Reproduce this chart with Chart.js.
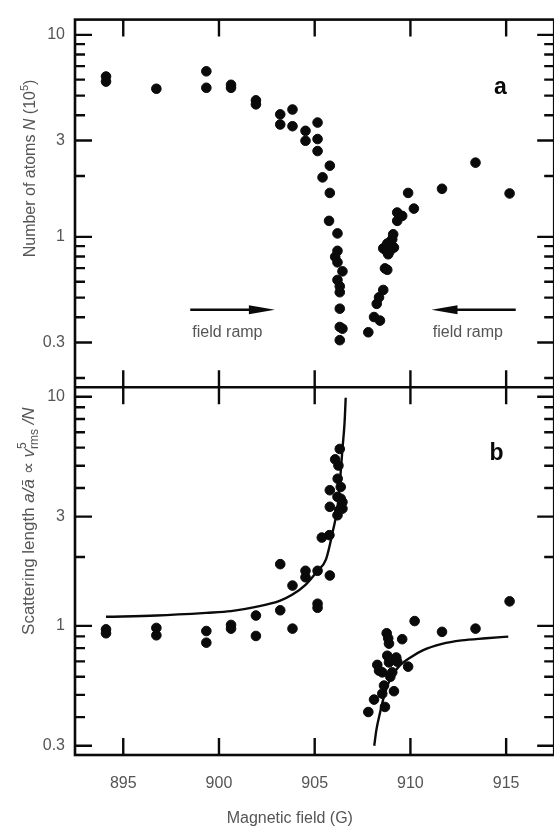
<!DOCTYPE html>
<html>
<head>
<meta charset="utf-8">
<script src="https://cdn.jsdelivr.net/npm/chart.js@4.4.1/dist/chart.umd.min.js"></script>
<style>
  html, body { margin: 0; padding: 0; background: #fff; overflow: hidden; }
  #wrap { position: relative; width: 560px; height: 826px; }
</style>
</head>
<body>
<div id="wrap"><canvas id="chart" width="560" height="826"></canvas></div>
<script>
// ── Data ──────────────────────────────────────────────────────
// panel a: number of atoms N (10^5) against magnetic field (G)
const fieldA = [894.10, 894.10, 896.73, 899.34, 899.34, 900.63, 900.63, 901.93, 901.93, 903.20,
  903.20, 903.84, 903.84, 904.52, 904.52, 905.15, 905.15, 905.15, 905.79, 905.41,
  905.79, 905.75, 906.19, 906.19, 906.07, 906.19, 906.45, 906.19, 906.31, 906.31,
  906.31, 906.31, 906.45, 906.31, 907.80, 908.10, 908.41, 908.24, 908.36, 908.58,
  908.67, 908.79, 908.58, 908.79, 908.96, 909.14, 908.84, 909.05, 908.74, 908.91,
  909.10, 909.31, 909.31, 909.57, 909.88, 910.18, 911.65, 913.40, 915.18];
const atomsA = [6.22, 5.87, 5.41, 6.60, 5.47, 5.66, 5.47, 4.74, 4.53, 4.04,
  3.60, 4.27, 3.53, 3.35, 2.99, 3.68, 3.05, 2.66, 2.25, 1.97,
  1.65, 1.20, 1.04, 0.853, 0.796, 0.748, 0.675, 0.612, 0.569, 0.532,
  0.441, 0.358, 0.351, 0.308, 0.337, 0.401, 0.385, 0.466, 0.502, 0.546,
  0.698, 0.687, 0.877, 0.926, 0.948, 0.885, 0.820, 0.973, 0.853, 0.847,
  1.03, 1.20, 1.32, 1.27, 1.65, 1.38, 1.73, 2.33, 1.64];

// panel b: scattering length a/ā
const fieldB = [894.10, 894.10, 896.73, 896.73, 899.34, 899.34, 900.63, 900.63, 901.93, 901.93,
  903.20, 903.20, 903.84, 903.84, 904.52, 904.52, 905.15, 905.15, 905.15, 905.79,
  905.37, 905.77, 905.79, 905.79, 906.07, 906.31, 906.24, 906.20, 906.36, 906.36,
  906.45, 906.19, 906.28, 906.45, 906.19,
  907.80, 908.10, 908.67, 908.53, 908.62, 909.14, 908.27, 908.36, 908.53, 909.05,
  908.79, 908.88, 909.26, 909.31, 908.95, 909.88, 908.76, 908.84, 908.88, 909.57,
  910.22, 911.65, 913.40, 915.18];
const scatB = [0.966, 0.929, 0.98, 0.91, 0.95, 0.845, 1.01, 0.973, 1.11, 0.904,
  1.86, 1.17, 1.50, 0.973, 1.74, 1.63, 1.74, 1.25, 1.20, 1.66,
  2.43, 2.49, 3.31, 3.91, 5.33, 5.92, 5.01, 4.39, 4.04, 3.59,
  3.47, 3.66, 3.20, 3.25, 3.04,
  0.421, 0.477, 0.443, 0.506, 0.549, 0.519, 0.676, 0.638, 0.627, 0.627,
  0.741, 0.693, 0.728, 0.698, 0.600, 0.664, 0.929, 0.883, 0.837, 0.875,
  1.05, 0.942, 0.973, 1.28];

// fitted curves in panel b (two branches either side of the resonance)
const fitLeftField = [894.10, 896.73, 899.34, 900.63, 901.93, 903.20, 903.84, 904.52, 905.15, 905.59,
  905.96, 906.18, 906.32, 906.45, 906.56, 906.62];
const fitLeftScat = [1.096, 1.11, 1.14, 1.16, 1.21, 1.29, 1.37, 1.51, 1.74, 1.95,
  2.62, 3.25, 4.25, 5.92, 7.71, 9.9];
const fitRightField = [908.11, 908.22, 908.40, 908.66, 908.99, 909.45, 910.00, 910.64, 911.65, 912.67,
  913.95, 915.11];
const fitRightScat = [0.30, 0.351, 0.414, 0.506, 0.597, 0.672, 0.728, 0.782, 0.835, 0.865,
  0.883, 0.898];

// ticks
const fieldTicks = [895, 900, 905, 910, 915];
const yTicks = [0.3, 1, 3, 10];

// ── Style ─────────────────────────────────────────────────────
const INK  = '#0a0a0a';
const GREY = '#555';
const FONT = '"Liberation Sans", Arial, Helvetica, sans-serif';

const pts = (xs, ys) => xs.map((x, i) => ({ x: x, y: ys[i] }));

// minor positions of a log axis (1..9 x 10^k), rounded so 0.3 == 0.3
function logMarks(min, max) {
  const out = [];
  for (let e = Math.floor(Math.log10(min)); e <= Math.ceil(Math.log10(max)); e++) {
    for (let m = 1; m <= 9; m++) {
      const v = +(m * Math.pow(10, e)).toPrecision(3);
      if (v >= min && v <= max) out.push(v);
    }
  }
  return out;
}

// rotated axis title, built from parts (italic, super/subscripts)
function drawRotated(ctx, parts, cx, cy) {
  ctx.save();
  ctx.translate(cx, cy);
  ctx.rotate(-Math.PI / 2);
  ctx.fillStyle = GREY;
  ctx.textBaseline = 'alphabetic';
  ctx.textAlign = 'left';
  let total = 0;
  parts.forEach(p => {
    ctx.font = (p.italic ? 'italic ' : '') + (p.size || 16) + 'px ' + FONT;
    p.w = p.adv === 0 ? 0 : ctx.measureText(p.t).width;
    total += p.w;
  });
  let x = -total / 2;
  parts.forEach(p => {
    ctx.font = (p.italic ? 'italic ' : '') + (p.size || 16) + 'px ' + FONT;
    ctx.fillText(p.t, x, p.dy || 0);
    x += p.w;
  });
  ctx.restore();
}

function arrow(ctx, x0, x1, y) {
  const dir = Math.sign(x1 - x0);
  ctx.beginPath();
  ctx.lineWidth = 2.5;
  ctx.moveTo(x0, y);
  ctx.lineTo(x1 - dir * 20, y);
  ctx.stroke();
  ctx.beginPath();
  ctx.moveTo(x1, y);
  ctx.lineTo(x1 - dir * 26, y - 4.5);
  ctx.lineTo(x1 - dir * 26, y + 4.5);
  ctx.closePath();
  ctx.fill();
}

// ── Frame, inward ticks, labels ───────────────────────────────
const framePlugin = {
  id: 'frame',
  afterDraw(chart) {
    const ctx = chart.ctx;
    const ca = chart.chartArea;
    const xs = chart.scales.x;
    const yA = chart.scales.yA;
    const yB = chart.scales.yB;
    ctx.save();
    ctx.strokeStyle = INK;
    ctx.fillStyle = INK;
    ctx.lineWidth = 2.6;
    ctx.strokeRect(ca.left, ca.top, ca.right - ca.left, ca.bottom - ca.top);
    ctx.beginPath();
    ctx.moveTo(ca.left, yA.bottom);
    ctx.lineTo(ca.right, yA.bottom);
    ctx.stroke();

    ctx.lineWidth = 2.4;
    ctx.beginPath();
    [yA, yB].forEach(s => {
      fieldTicks.forEach(v => {
        const px = xs.getPixelForValue(v);
        ctx.moveTo(px, s.top);    ctx.lineTo(px, s.top + 17);
        ctx.moveTo(px, s.bottom); ctx.lineTo(px, s.bottom - 17);
      });
      logMarks(s.min, s.max).forEach(v => {
        const py = s.getPixelForValue(v);
        const len = yTicks.includes(v) ? 17 : 10;
        ctx.moveTo(ca.left, py);  ctx.lineTo(ca.left + len, py);
        ctx.moveTo(ca.right, py); ctx.lineTo(ca.right - len, py);
      });
    });
    ctx.stroke();

    // arrows and notes in panel a
    const yArrow = yA.getPixelForValue(0.436);
    arrow(ctx, xs.getPixelForValue(898.5), xs.getPixelForValue(902.92), yArrow);
    arrow(ctx, xs.getPixelForValue(915.5), xs.getPixelForValue(911.1), yArrow);

    ctx.fillStyle = GREY;
    ctx.font = '16px ' + FONT;
    ctx.textAlign = 'center';
    ctx.textBaseline = 'middle';
    ctx.fillText('field ramp', xs.getPixelForValue(900.44), yA.getPixelForValue(0.336));
    ctx.fillText('field ramp', xs.getPixelForValue(913.0), yA.getPixelForValue(0.336));

    ctx.fillStyle = INK;
    ctx.font = 'bold 23px ' + FONT;
    ctx.fillText('a', xs.getPixelForValue(914.7), yA.getPixelForValue(5.46));
    ctx.fillText('b', xs.getPixelForValue(914.5), yB.getPixelForValue(5.63));

    // x title
    ctx.fillStyle = GREY;
    ctx.font = '16px ' + FONT;
    ctx.textBaseline = 'alphabetic';
    ctx.fillText('Magnetic field (G)', xs.getPixelForValue(903.7), 823);
    ctx.restore();

    // y titles
    drawRotated(ctx, [
      { t: 'Number of atoms ' },
      { t: 'N', italic: true },
      { t: ' (10' },
      { t: '5', size: 11, dy: -7 },
      { t: ')' }
    ], 35, (yA.top + yA.bottom) / 2 - 35);
    drawRotated(ctx, [
      { t: 'Scattering length ', size: 17 },
      { t: 'a/ā', italic: true, size: 17 },
      { t: ' ∝ ', size: 17 },
      { t: 'v', italic: true, size: 17 },
      { t: '5', size: 12, dy: -8, adv: 0 },
      { t: 'rms', size: 12, dy: 4 },
      { t: ' /N', italic: true, size: 17 }
    ], 34, (yB.top + yB.bottom) / 2 - 50);
  }
};

// ── Chart ─────────────────────────────────────────────────────
const tickFont = { family: FONT, size: 16 };

function logAxis(min, max, weight) {
  return {
    type: 'logarithmic',
    position: 'left',
    stack: 'panels',
    stackWeight: 1,
    weight: weight,
    min: min,
    max: max,
    grid: { display: false, drawTicks: false },
    border: { display: false },
    ticks: {
      color: GREY,
      font: tickFont,
      padding: 10,
      autoSkip: false,
      callback: v => String(v)
    },
    afterBuildTicks: axis => { axis.ticks = yTicks.map(v => ({ value: v })); },
    afterFit: axis => { axis.width = 75; }
  };
}

new Chart(document.getElementById('chart'), {
  type: 'scatter',
  data: {
    datasets: [
      {
        label: 'N',
        data: pts(fieldA, atomsA),
        yAxisID: 'yA',
        backgroundColor: INK,
        borderColor: INK,
        pointRadius: 4.8,
        pointHoverRadius: 4.8
      },
      {
        label: 'fit low',
        type: 'line',
        data: pts(fitLeftField, fitLeftScat),
        yAxisID: 'yB',
        borderColor: INK,
        borderWidth: 2.4,
        pointRadius: 0,
        fill: false,
        cubicInterpolationMode: 'monotone'
      },
      {
        label: 'fit high',
        type: 'line',
        data: pts(fitRightField, fitRightScat),
        yAxisID: 'yB',
        borderColor: INK,
        borderWidth: 2.4,
        pointRadius: 0,
        fill: false,
        cubicInterpolationMode: 'monotone'
      },
      {
        label: 'a',
        data: pts(fieldB, scatB),
        yAxisID: 'yB',
        backgroundColor: INK,
        borderColor: INK,
        pointRadius: 4.8,
        pointHoverRadius: 4.8
      }
    ]
  },
  options: {
    responsive: false,
    animation: false,
    events: [],
    layout: { padding: { top: 14, right: 4, left: 0, bottom: 0 } },
    plugins: { legend: { display: false }, tooltip: { enabled: false } },
    scales: {
      x: {
        type: 'linear',
        position: 'bottom',
        min: 892.48,
        max: 917.51,
        grid: { display: false, drawTicks: false },
        border: { display: false },
        ticks: { color: GREY, font: tickFont, padding: 19, autoSkip: false, maxRotation: 0 },
        afterBuildTicks: axis => { axis.ticks = fieldTicks.map(v => ({ value: v })); },
        afterFit: axis => { axis.height = 71; }
      },
      yA: logAxis(0.18, 11.9, 2),
      yB: logAxis(0.2733, 11.0, 1)
    }
  },
  plugins: [framePlugin]
});
</script>
</body>
</html>
